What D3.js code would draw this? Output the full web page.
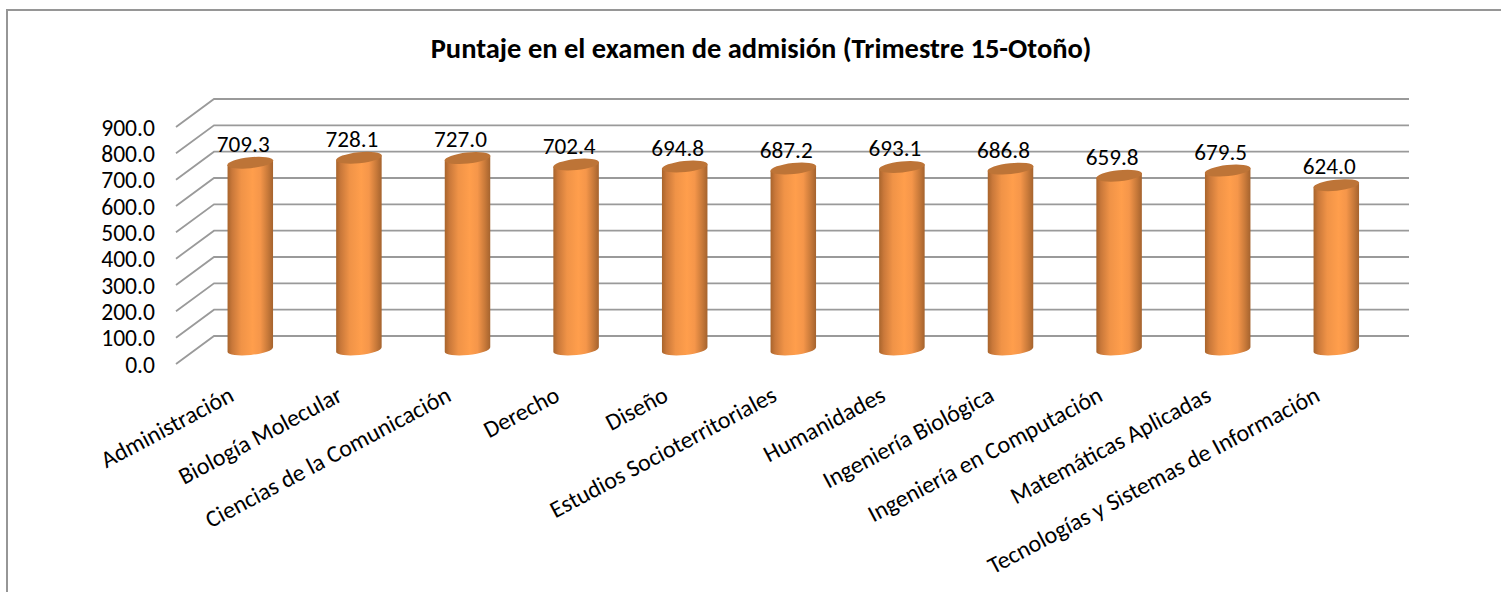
<!DOCTYPE html>
<html><head><meta charset="utf-8">
<style>html,body{margin:0;padding:0;background:#fff}svg{display:block}text{font-family:Carlito,Lato,"Open Sans",sans-serif;fill:#000}</style>
<script src="https://cdn.jsdelivr.net/npm/d3@7"></script></head><body>
<script>
const categories=["Administración","Biología Molecular","Ciencias de la Comunicación","Derecho","Diseño","Estudios Socioterritoriales","Humanidades","Ingeniería Biológica","Ingeniería en Computación","Matemáticas Aplicadas","Tecnologías y Sistemas de Información"];
const values=[709.3,728.1,727.0,702.4,694.8,687.2,693.1,686.8,659.8,679.5,624.0];
const yTicks=[0,100,200,300,400,500,600,700,800,900];
const titleText="Puntaje en el examen de admisión (Trimestre 15-Otoño)";

const W=1501,H=592;
const svg=d3.select("body").append("svg").attr("width",W).attr("height",H);
const defs=svg.append("defs");
const g=defs.append("linearGradient").attr("id","cyl");
[[0,"#a8642c"],[.1,"#c9783a"],[.3,"#f09347"],[.55,"#ff9e4c"],[.72,"#f5964a"],[.88,"#c97a3a"],[1,"#a5632e"]].forEach(([o,c])=>g.append("stop").attr("offset",o).attr("stop-color",c));

svg.append("path").attr("fill","none").attr("stroke","#969696").attr("stroke-width",2).attr("d",d3.line()([[7,H],[7,10],[W,10]]));
svg.append("text").attr("x",761).attr("y",58).attr("text-anchor","middle").attr("font-weight","bold").attr("font-size",28.5).text(titleText);

const y=d3.scaleLinear().domain([0,900]).range([336,99]);
const dy=28;
const gridG=svg.append("g");
yTicks.forEach(t=>{
  gridG.append("path").attr("fill","none").attr("stroke","#9a9a9a").attr("stroke-width",1.8)
    .attr("d",d3.line()([[176,y(t)+dy],[214,y(t)],[1409,y(t)]]));
  svg.append("text").attr("x",155).attr("y",y(t)+dy+8.5).attr("text-anchor","end").attr("font-size",23.6).text(d3.format(".1f")(t));
});

const x=d3.scaleBand().domain(categories).range([196,1390.6]).paddingInner(0).paddingOuter(0);
const barW=45.5, rx=barW/2, ry=5.5, tilt=-6, baseOff=13.5;
const bars=svg.append("g");
categories.forEach((c,i)=>{
  const cx=x(c)+x.bandwidth()/2;
  const yb=y(0)+baseOff, yt=y(values[i])+baseOff;
  const a=Math.abs(tilt)*Math.PI/180, s=rx*Math.tan(a);
  bars.append("path").attr("fill","url(#cyl)")
    .attr("d",`M${cx-rx},${yt+s} L${cx-rx},${yb+s} A${rx},${ry} ${tilt} 0 0 ${cx+rx},${yb-s} L${cx+rx},${yt-s} Z`);
  bars.append("ellipse").attr("cx",cx).attr("cy",yt).attr("rx",rx+.3).attr("ry",ry).attr("fill","#bd7437")
    .attr("transform",`rotate(${tilt} ${cx} ${yt})`);
  svg.append("text").attr("x",cx-7).attr("y",yt-11).attr("text-anchor","middle").attr("font-size",23.2).text(d3.format(".1f")(values[i]));
  svg.append("text").attr("transform",`translate(${cx-15},${400}) rotate(-28)`).attr("text-anchor","end").attr("font-size",23.9).text(c);
});
</script></body></html>
